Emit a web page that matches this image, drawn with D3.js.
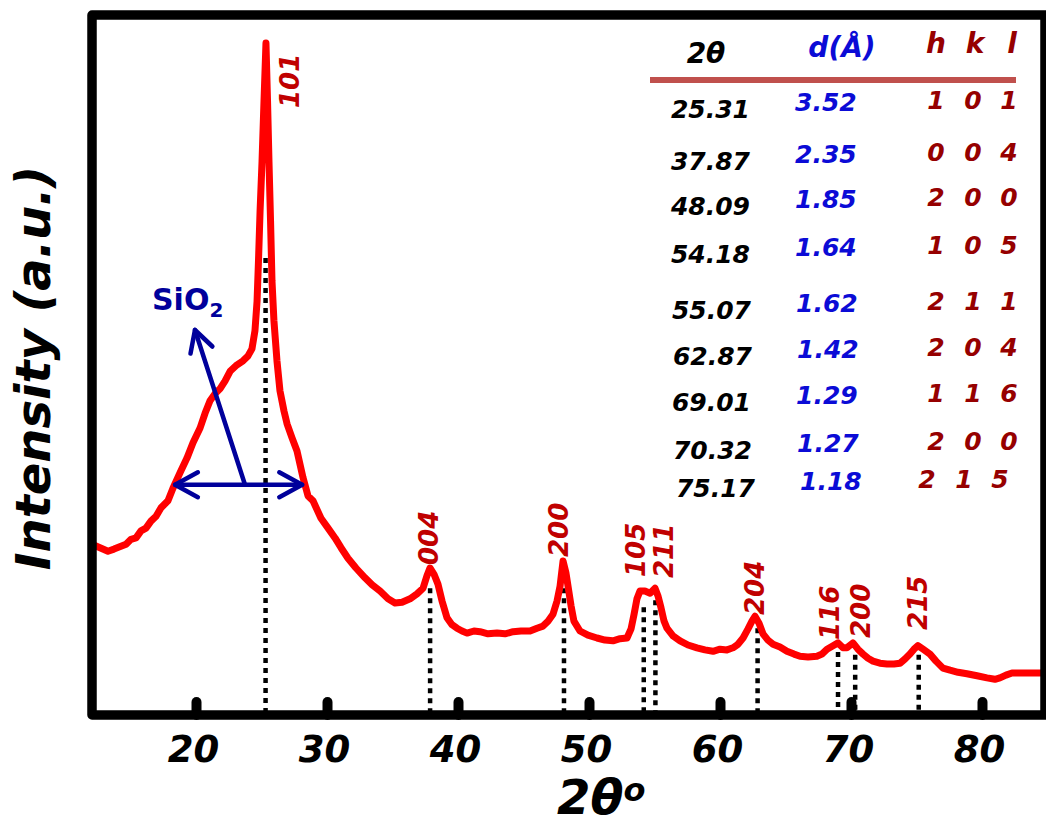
<!DOCTYPE html>
<html>
<head>
<meta charset="utf-8">
<script src="https://cdn.jsdelivr.net/npm/d3@7"></script>
<style>
  body { margin: 0; background: #fff; }
  svg { display: block; }
  text { font-family: "DejaVu Sans", sans-serif; font-weight: bold; }
</style>
</head>
<body>
<svg id="chart" width="1046" height="824"></svg>
<script>
// ---------------- DATA ----------------
const twoTheta = [12.06,12.67,13.28,13.74,14.27,14.66,15.04,15.42,15.80,16.18,16.56,16.95,17.33,17.86,18.24,18.78,19.31,19.77,20.31,20.69,21.07,21.45,21.83,22.21,22.60,23.05,23.59,23.97,24.27,24.50,24.66,24.77,24.89,25.04,25.19,25.34,25.46,25.57,25.69,25.80,25.95,26.18,26.41,26.72,26.95,27.33,27.71,28.17,28.55,28.93,29.54,30.08,30.61,31.07,31.60,32.21,32.90,33.44,34.05,34.66,35.19,35.73,36.34,36.87,37.33,37.63,37.86,38.17,38.47,38.78,39.16,39.54,39.92,40.31,40.69,41.22,41.68,42.29,42.98,43.59,44.20,44.81,45.50,46.03,46.49,46.87,47.25,47.56,47.79,48.02,48.24,48.40,48.63,48.85,49.31,49.92,50.61,51.22,51.83,52.37,52.90,53.21,53.44,53.66,53.89,54.27,54.66,55.04,55.27,55.50,55.73,55.95,56.41,56.95,57.56,58.24,58.85,59.47,60.00,60.53,60.99,61.37,61.76,62.14,62.44,62.67,62.98,63.28,63.66,64.05,64.58,65.11,65.65,66.11,66.72,67.40,67.79,68.17,68.63,69.01,69.39,69.69,70.15,70.53,70.92,71.30,71.68,72.21,72.75,73.28,73.74,74.12,74.50,74.81,75.11,75.50,76.03,76.49,77.02,77.56,78.17,78.85,79.62,80.38,80.99,81.37,81.83,82.29,83.05,83.89,84.73];
const intensity = [24.4,23.9,23.4,23.7,24.1,24.4,25.1,25.3,26.3,26.7,27.7,28.4,29.6,30.6,32.4,34.6,36.7,38.9,41.0,43.1,44.9,45.9,46.6,47.7,49.1,49.9,50.6,51.3,52.3,54.9,59.1,64.9,72.0,79.1,87.7,96.0,87.7,79.1,70.6,62.0,56.3,50.6,46.3,43.4,41.6,39.6,37.7,33.9,31.3,30.6,28.1,26.7,25.3,23.9,22.4,21.0,19.6,18.6,17.7,16.6,16.0,16.1,16.6,17.3,18.1,19.9,21.0,20.1,18.7,16.3,13.9,12.9,12.4,12.0,11.7,12.0,11.9,11.6,11.7,11.6,11.9,12.0,12.0,12.4,12.7,13.4,14.4,16.3,18.4,22.0,20.3,18.4,15.6,13.4,12.0,11.4,11.0,10.7,10.6,10.9,11.0,12.3,14.4,16.6,17.7,17.7,17.4,18.1,17.0,15.3,13.4,12.4,11.3,10.6,10.0,9.6,9.3,9.1,9.4,9.3,9.6,10.1,11.0,12.3,13.4,14.1,13.1,11.6,10.7,10.1,9.7,9.1,8.7,8.4,8.3,8.4,8.7,9.4,9.9,10.3,9.6,9.6,10.3,9.4,8.7,8.1,7.7,7.4,7.3,7.3,7.4,8.0,8.7,9.4,9.9,9.4,8.7,7.7,6.7,6.4,6.1,5.9,5.6,5.3,5.1,5.3,5.7,6.0,6.0,6.0,6.0];

const peakPos   = [25.31, 37.87, 48.09, 54.18, 55.07, 62.87, 69.01, 70.32, 75.17];
const peakTop   = [65.3, 18.1, 18.1, 15.4, 16.4, 12.4, 9.0, 8.6, 8.6];
const peakHkl   = ["101","004","200","105","211","204","116","200","215"];
const tableTheta = ["25.31","37.87","48.09","54.18","55.07","62.87","69.01","70.32","75.17"];
const tableD     = ["3.52","2.35","1.85","1.64","1.62","1.42","1.29","1.27","1.18"];
const tableHkl   = [["1","0","1"],["0","0","4"],["2","0","0"],["1","0","5"],["2","1","1"],["2","0","4"],["1","1","6"],["2","0","0"],["2","1","5"]];
const xTicks = [20, 30, 40, 50, 60, 70, 80];
const sio2Span = [18.4, 28.1];
const sio2Level = 32.9;
const sio2Pointer = [[23.74, 32.9], [19.92, 55.0]];

// ---------------- LAYOUT ----------------
const W = 1046, H = 824;
const L = 92, R = 1045, T = 15, B = 715;
const svg = d3.select("#chart");
svg.append("rect").attr("width", W).attr("height", H).attr("fill", "#fff");

const x = d3.scaleLinear().domain([12.06, 84.81]).range([L, R]);
const y = d3.scaleLinear().domain([0, 100]).range([B, T]);

const navy = "#00009b";
const redLbl = "#c00000";
const darkRed = "#960000";
const blue = "#0b0bd6";

// dotted drop lines
svg.append("g").selectAll("line").data(peakPos).join("line")
  .attr("x1", d => x(d)).attr("x2", d => x(d))
  .attr("y1", (d, i) => y(peakTop[i])).attr("y2", y(0))
  .attr("stroke", "#000").attr("stroke-width", 4.5)
  .attr("stroke-dasharray", "5,5");

// curve
const pts = twoTheta.map((t, i) => [t, intensity[i]]);
svg.append("path").datum(pts)
  .attr("d", d3.line().x(d => x(d[0])).y(d => y(d[1])))
  .attr("fill", "none").attr("stroke", "#ff0000")
  .attr("stroke-width", 7).attr("stroke-linejoin", "round").attr("stroke-linecap", "round");

// peak labels (rotated)
const labelLayout = [[24,108],[-1,565],[-5,557],[-8,577],[8,578],[-3,615],[-8,640],[5,638],[-1,630]];
svg.append("g").selectAll("text").data(peakHkl).join("text")
  .attr("transform", (d, i) => `translate(${x(peakPos[i]) + labelLayout[i][0]},${labelLayout[i][1]}) rotate(-90)`)
  .attr("dy", "0.36em")
  .attr("font-size", 26).attr("font-style", "italic")
  .attr("fill", redLbl).text(d => d);

// frame
svg.append("rect").attr("x", L).attr("y", T).attr("width", R - L).attr("height", B - T)
  .attr("fill", "none").attr("stroke", "#000").attr("stroke-width", 9.5)
  .attr("stroke-linejoin", "round");

// x axis
const xAxis = d3.axisBottom(x).tickValues(xTicks).tickSizeInner(-13).tickSizeOuter(0).tickPadding(21);
const gx = svg.append("g").attr("transform", `translate(0,${B})`).call(xAxis);
gx.select(".domain").remove();
gx.selectAll(".tick line").attr("stroke", "#000").attr("stroke-width", 10).attr("stroke-linecap", "round");
gx.selectAll(".tick text").attr("font-size", 37).attr("font-style", "italic")
  .attr("font-family", "DejaVu Sans").attr("font-weight", "bold").attr("fill", "#000").attr("dx", -3);

// axis titles
const xt = svg.append("text").attr("x", 557).attr("y", 814).attr("font-size", 48).attr("font-style", "italic").attr("fill", "#000");
xt.append("tspan").text("2θ");
xt.append("tspan").attr("font-size", 32).attr("dy", -13).text("o");

svg.append("text").attr("transform", "translate(50,368) rotate(-90)")
  .attr("text-anchor", "middle").attr("font-size", 48).attr("font-style", "italic")
  .attr("fill", "#000").text("Intensity (a.u.)");

// table
const tbl = svg.append("g").attr("font-style", "italic");
tbl.append("text").attr("x", 706).attr("y", 63).attr("text-anchor", "middle").attr("font-size", 28).attr("fill", "#000").text("2θ");
tbl.append("text").attr("x", 842).attr("y", 57).attr("text-anchor", "middle").attr("font-size", 28).attr("fill", blue).text("d(Å)");
const hklX = [936, 973, 1009];
["h","k","l"].forEach((c, j) => {
  tbl.append("text").attr("x", hklX[j] + [0,2,3][j]).attr("y", 53).attr("text-anchor", "middle").attr("font-size", 28).attr("fill", darkRed).text(c);
});
tbl.append("line").attr("x1", 650).attr("x2", 1016).attr("y1", 80).attr("y2", 80)
  .attr("stroke", "#c0504d").attr("stroke-width", 6);

const rowY = [118, 170, 215, 263, 319, 365, 411, 459, 497];
const rowShift = [0, 0, 0, 0, 1, 2, 1, 2, 5];
tbl.selectAll(".c1").data(tableTheta).join("text").attr("class", "c1")
  .attr("x", (d, i) => 750 + rowShift[i]).attr("y", (d, i) => rowY[i])
  .attr("text-anchor", "end").attr("font-size", 25).attr("fill", "#000").text(d => d);
tbl.selectAll(".c2").data(tableD).join("text").attr("class", "c2")
  .attr("x", (d, i) => 795 + rowShift[i]).attr("y", (d, i) => rowY[i] - 7)
  .attr("font-size", 25).attr("fill", blue).text(d => d);
tableHkl.forEach((row, i) => {
  row.forEach((c, j) => {
    tbl.append("text").attr("x", hklX[j] + (i === 8 ? -9 : 0)).attr("y", rowY[i] - 9)
      .attr("text-anchor", "middle").attr("font-size", 25).attr("fill", darkRed).text(c);
  });
});

// SiO2 annotation
const ann = svg.append("g").attr("stroke", navy).attr("stroke-width", 4.5)
  .attr("stroke-linecap", "round").attr("stroke-linejoin", "round").attr("fill", "none");
function arrowHead(x0, y0, x1, y1, len, spread) {
  const a = Math.atan2(y1 - y0, x1 - x0);
  const p1 = [x1 - len * Math.cos(a - spread), y1 - len * Math.sin(a - spread)];
  const p2 = [x1 - len * Math.cos(a + spread), y1 - len * Math.sin(a + spread)];
  ann.append("path").attr("d", `M${p1}L${x1},${y1}L${p2}`);
}
const hx0 = x(sio2Span[0]), hx1 = x(sio2Span[1]), hy = y(sio2Level);
ann.append("line").attr("x1", hx0).attr("x2", hx1).attr("y1", hy).attr("y2", hy);
arrowHead(hx1, hy, hx0, hy, 26, 0.5);
arrowHead(hx0, hy, hx1, hy, 26, 0.5);
const px0 = x(sio2Pointer[0][0]), py0 = y(sio2Pointer[0][1]);
const px1 = x(sio2Pointer[1][0]), py1 = y(sio2Pointer[1][1]);
ann.append("line").attr("x1", px0).attr("y1", py0).attr("x2", px1).attr("y2", py1);
arrowHead(px0, py0, px1, py1, 24, 0.5);

const st = svg.append("text").attr("x", 152).attr("y", 310).attr("font-size", 30).attr("fill", navy);
st.append("tspan").text("SiO");
st.append("tspan").attr("font-size", 20).attr("dy", 7).text("2");
</script>
</body>
</html>
